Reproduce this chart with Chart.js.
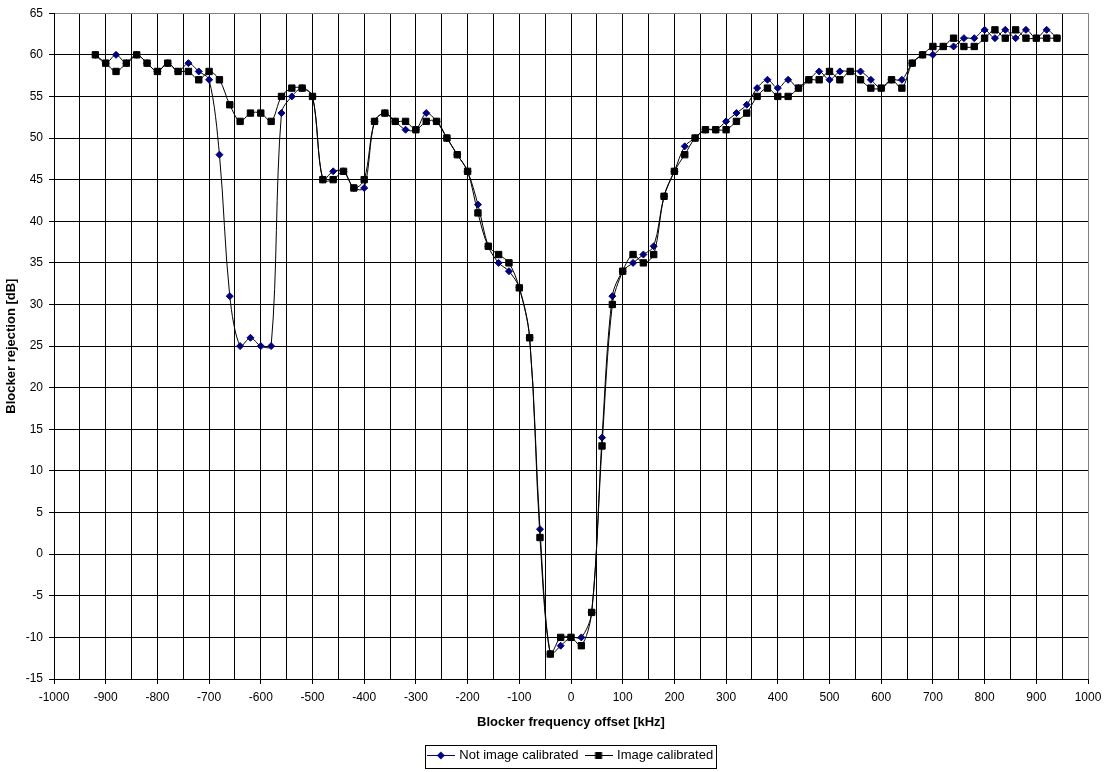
<!DOCTYPE html>
<html>
<head>
<meta charset="utf-8">
<title>Blocker rejection</title>
<script src="https://cdn.jsdelivr.net/npm/chart.js@4.4.1/dist/chart.umd.min.js"></script>
<style>
    html, body { margin: 0; padding: 0; background: #fff; }
    #wrap { width: 1106px; height: 772px; }
</style>
</head>
<body>
<div id="wrap"><canvas id="chart" width="1106" height="772"></canvas></div>
<script>
    // blocker frequency offset [kHz]
    const freqs = [
        -920, -900, -880, -860, -840, -820, -800, -780, -760, -740,
        -720, -700, -680, -660, -640, -620, -600, -580, -560, -540,
        -520, -500, -480, -460, -440, -420, -400, -380, -360, -340,
        -320, -300, -280, -260, -240, -220, -200, -180, -160, -140,
        -120, -100, -80, -60, -40, -20, 0, 20, 40, 60,
        80, 100, 120, 140, 160, 180, 200, 220, 240, 260,
        280, 300, 320, 340, 360, 380, 400, 420, 440, 460,
        480, 500, 520, 540, 560, 580, 600, 620, 640, 660,
        680, 700, 720, 740, 760, 780, 800, 820, 840, 860,
        880, 900, 920, 940
    ];

    // blocker rejection [dB]
    const notCalibrated = [
        60, 59, 60, 59, 60, 59, 58, 59, 58, 59,
        58, 57, 48, 31, 25, 26, 25, 25, 53, 55,
        56, 55, 45, 46, 46, 44, 44, 52, 53, 52,
        51, 51, 53, 52, 50, 48, 46, 42, 37, 35,
        34, 32, 26, 3, -12, -11, -10, -10, -7, 14,
        31, 34, 35, 36, 37, 43, 46, 49, 50, 51,
        51, 52, 53, 54, 56, 57, 56, 57, 56, 57,
        58, 57, 58, 58, 58, 57, 56, 57, 57, 59,
        60, 60, 61, 61, 62, 62, 63, 62, 63, 62,
        63, 62, 63, 62
    ];

    const calibrated = [
        60, 59, 58, 59, 60, 59, 58, 59, 58, 58,
        57, 58, 57, 54, 52, 53, 53, 52, 55, 56,
        56, 55, 45, 45, 46, 44, 45, 52, 53, 52,
        52, 51, 52, 52, 50, 48, 46, 41, 37, 36,
        35, 32, 26, 2, -12, -10, -10, -11, -7, 13,
        30, 34, 36, 35, 36, 43, 46, 48, 50, 51,
        51, 51, 52, 53, 55, 56, 55, 55, 56, 57,
        57, 58, 57, 58, 57, 56, 56, 57, 56, 59,
        60, 61, 61, 62, 61, 61, 62, 63, 62, 63,
        62, 62, 62, 62
    ];

    const xMin = -1000, xMax = 1000, xStep = 50;
    const yMin = -15, yMax = 65, yStep = 5;

    const seriesNames = ['Not image calibrated', 'Image calibrated'];

    const FONT = "Arial, 'Liberation Sans', sans-serif";

    function toPoints(values) {
        return values.map((v, i) => ({x: freqs[i], y: v}));
    }

    // small line+marker picture used as legend symbol
    function legendSymbol(shape, color) {
        const c = document.createElement('canvas');
        c.width = 28;
        c.height = 9;
        const g = c.getContext('2d');
        g.strokeStyle = color;
        g.lineWidth = 1;
        g.beginPath();
        g.moveTo(0, 4.5);
        g.lineTo(28, 4.5);
        g.stroke();
        g.fillStyle = color;
        if (shape === 'diamond') {
            g.beginPath();
            g.moveTo(14, 0.5);
            g.lineTo(18, 4.5);
            g.lineTo(14, 8.5);
            g.lineTo(10, 4.5);
            g.closePath();
            g.fill();
        } else {
            g.fillRect(10.5, 1, 7, 7);
        }
        return c;
    }

    const legendBorder = {
        id: 'legendBorder',
        afterDraw(chart) {
            const boxes = chart.legend && chart.legend.legendHitBoxes;
            if (!boxes || !boxes.length) return;
            const ctx = chart.ctx;
            const left = Math.min(...boxes.map(b => b.left)) - 4;
            const right = Math.max(...boxes.map(b => b.left + b.width)) + 3;
            const top = boxes[0].top - 4;
            const bottom = boxes[0].top + boxes[0].height + 6;
            ctx.save();
            ctx.strokeStyle = '#000';
            ctx.lineWidth = 1;
            ctx.strokeRect(Math.round(left) + 0.5, Math.round(top) + 0.5,
                Math.round(right - left), Math.round(bottom - top));
            ctx.restore();
        }
    };

    const ctx = document.getElementById('chart').getContext('2d');
    const chart = new Chart(ctx, {
        type: 'line',
        data: {
            datasets: [{
                label: seriesNames[0],
                data: toPoints(notCalibrated),
                borderColor: '#000',
                borderWidth: 1,
                pointStyle: 'rectRot',
                pointRadius: 3.5,
                pointBackgroundColor: '#000080',
                pointBorderColor: '#000080',
                pointBorderWidth: 1,
                tension: 0.33,
                order: 1
            }, {
                label: seriesNames[1],
                data: toPoints(calibrated),
                borderColor: '#000',
                borderWidth: 1,
                pointStyle: 'rect',
                pointRadius: 4.5,
                pointBackgroundColor: '#000',
                pointBorderColor: '#000',
                pointBorderWidth: 1,
                tension: 0.33,
                order: 0
            }]
        },
        options: {
            responsive: false,
            animation: false,
            events: [],
            layout: {
                padding: {left: 0, top: 13, right: 18, bottom: 0}
            },
            scales: {
                x: {
                    type: 'linear',
                    min: xMin,
                    max: xMax,
                    afterFit: scale => {
                        scale.height = 62;
                        scale.paddingLeft = 0;
                        scale.paddingRight = 0;
                    },
                    ticks: {
                        stepSize: xStep,
                        autoSkip: false,
                        maxRotation: 0,
                        padding: 6,
                        color: '#000',
                        font: {family: FONT, size: 12},
                        callback: v => (v % 100 === 0 ? v : '')
                    },
                    grid: {
                        color: c => (c.tick && c.tick.value === xMax ? '#808080' : '#000'),
                        lineWidth: 1,
                        tickLength: 5,
                        tickColor: c => (c.tick && c.tick.value % 100 === 0 ? '#000' : 'rgba(0,0,0,0)')
                    },
                    border: {color: '#000', width: 1},
                    title: {
                        display: true,
                        text: 'Blocker frequency offset [kHz]',
                        color: '#000',
                        font: {family: FONT, size: 13, weight: 'bold'},
                        padding: {top: 0, bottom: 11}
                    }
                },
                y: {
                    min: yMin,
                    max: yMax,
                    afterFit: scale => { scale.width = 54; },
                    ticks: {
                        stepSize: yStep,
                        padding: 6,
                        color: '#000',
                        font: {family: FONT, size: 12}
                    },
                    grid: {
                        color: c => (c.tick && c.tick.value === yMax ? '#808080' : '#000'),
                        lineWidth: 1,
                        tickLength: 5,
                        tickColor: '#000'
                    },
                    border: {color: '#000', width: 1},
                    title: {
                        display: true,
                        text: 'Blocker rejection [dB]',
                        color: '#000',
                        font: {family: FONT, size: 13, weight: 'bold'},
                        padding: {top: 4, bottom: 0}
                    }
                }
            },
            plugins: {
                tooltip: {enabled: false},
                legend: {
                    position: 'bottom',
                    fullSize: false,
                    labels: {
                        color: '#000',
                        font: {family: FONT, size: 13},
                        usePointStyle: true,
                        pointStyleWidth: 24,
                        padding: 8,
                        generateLabels: () => [
                            {text: seriesNames[0], pointStyle: legendSymbol('diamond', '#000080'),
                             fillStyle: '#000080', strokeStyle: '#000080', lineWidth: 0, datasetIndex: 0},
                            {text: seriesNames[1], pointStyle: legendSymbol('square', '#000'),
                             fillStyle: '#000', strokeStyle: '#000', lineWidth: 0, datasetIndex: 1}
                        ]
                    }
                }
            }
        },
        plugins: [legendBorder]
    });
</script>
</body>
</html>
